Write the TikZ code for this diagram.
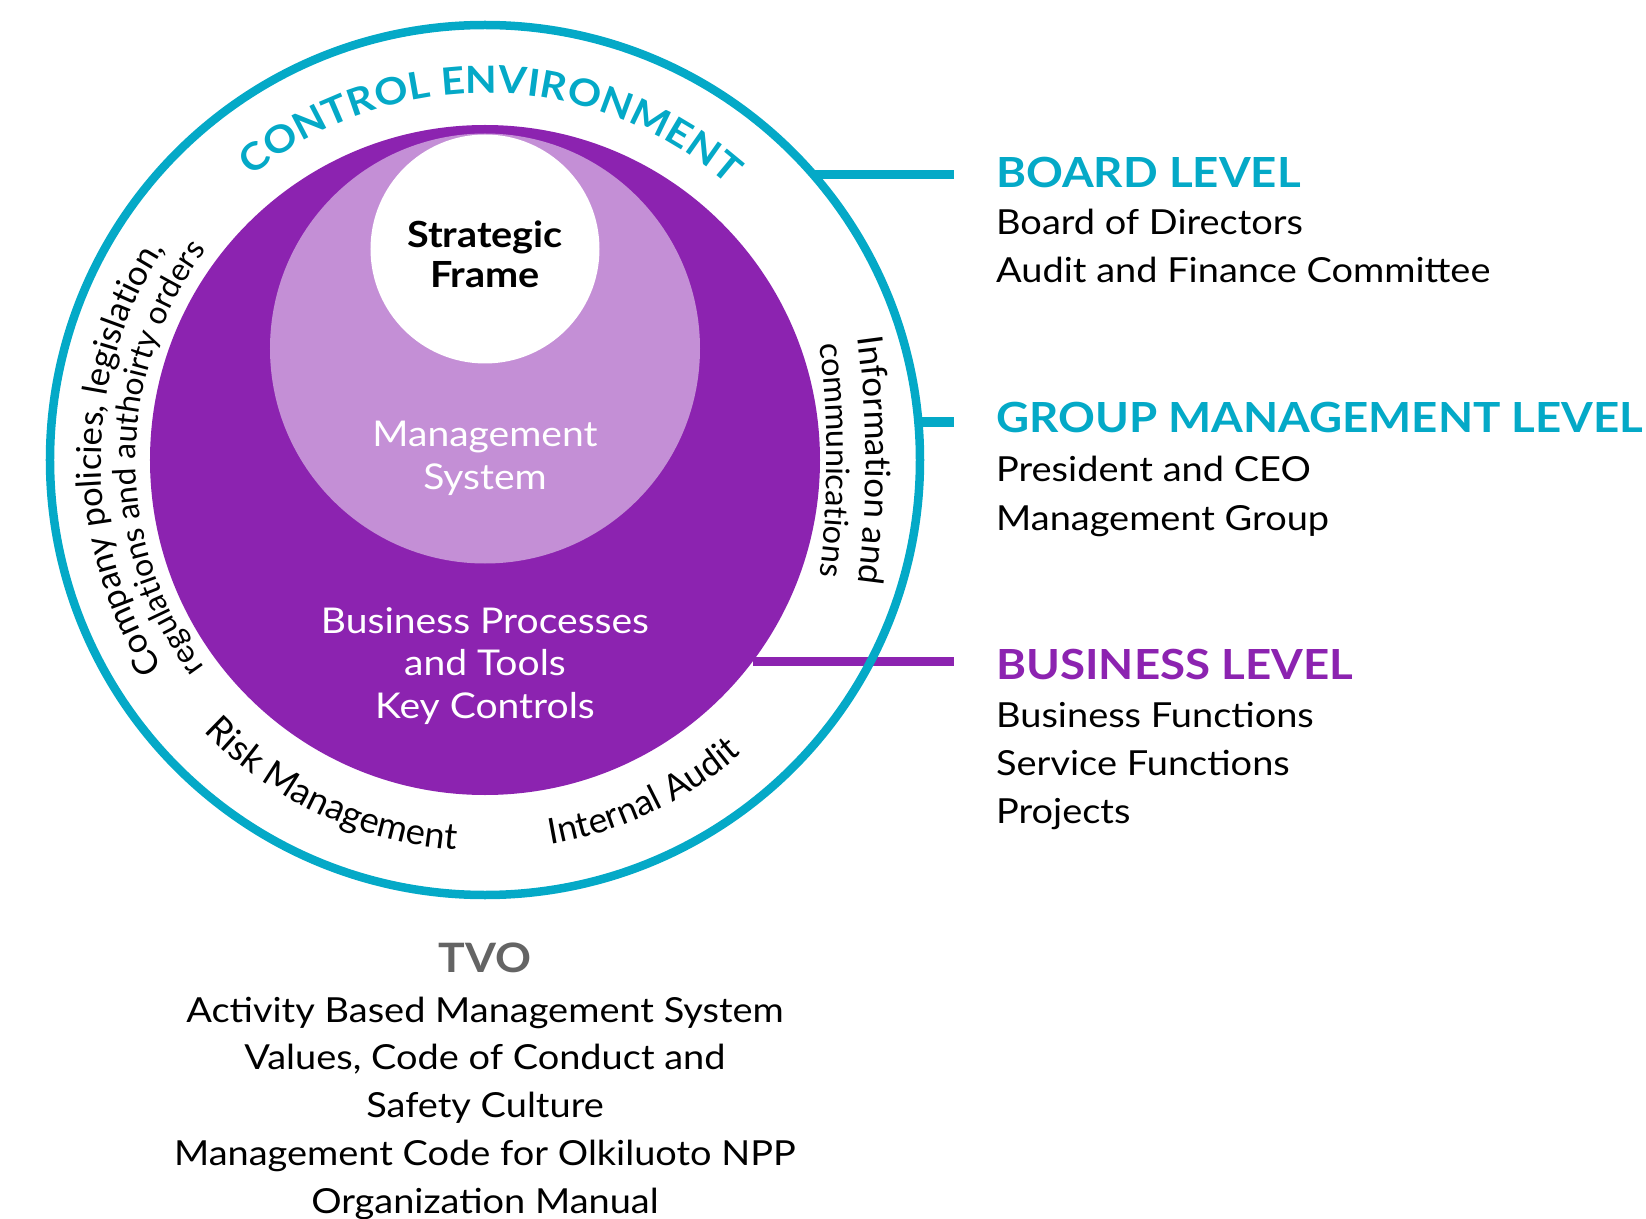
\documentclass[tikz,border=0pt]{standalone}
\usepackage{fontspec}
\setmainfont{Lato}[FakeStretch=1.1]
\newfontfamily\arcfont{Lato}
\usetikzlibrary{decorations.text}
\definecolor{cblue}{RGB}{4,169,199}
\definecolor{cpurple}{RGB}{140,35,176}
\definecolor{clight}{RGB}{196,143,214}
\definecolor{cgray}{RGB}{100,100,100}
\newcommand\fsbody{\fontsize{34.5}{40}\selectfont}
\newcommand\fshead{\fontsize{41.5}{48}\selectfont\bfseries}
\newcommand\fsinner{\fontsize{35.5}{40}\selectfont}
\newcommand\fsarc[1]{\arcfont\fontsize{#1}{36}\selectfont}
\newcommand\fsctrl{\fontsize{37.5}{40}\selectfont\bfseries}
\newcommand\fstvo{\fontsize{40.5}{44}\selectfont\bfseries}
\begin{document}
\begin{tikzpicture}[x=1pt,y=1pt,
  disk/.style={circle, inner sep=0pt, outer sep=0pt},
  body/.style={font=\fsbody, inner sep=0pt, anchor=base west},
  head/.style={font=\fshead, inner sep=0pt, anchor=base west},
  innertxt/.style={font=\fsinner, inner sep=0pt, anchor=base},
  listtxt/.style={font=\fsbody, inner sep=0pt, anchor=base},
  blueline/.style={draw=cblue, line width=9.5pt},
  purpleline/.style={draw=cpurple, line width=9.5pt},
  fittext/.style={decorate, decoration={text along path, text align=fit to path, text={#1}}},
  arctext/.style={decorate, decoration={text along path, text align=center, text={#1}}}
]
\useasboundingbox (-485,-758) rectangle (1161,460);

% disks
\node[disk, fill=cpurple, minimum size=670pt] (pd) at (0,0) {};
\node[disk, fill=clight, minimum size=430pt] (ld) at (0,111.5) {};
\node[disk, fill=white, minimum size=229pt] (wd) at (0,211) {};

% business line (under the ring)
\coordinate (busend) at (469,-204);
\draw[purpleline] (pd.-37.5) -- (pd.-37.5 -| busend);

% outer ring
\node[disk, draw=cblue, line width=8.5pt, outer sep=0pt, minimum size=870pt] (ring) at (0,0) {};

% level lines
\coordinate (boardend) at (469,285);
\coordinate (groupend) at (469,40);
\draw[blueline] (ring.41.0) -- (ring.41.0 -| boardend);
\draw[blueline] (ring.5.27) -- (ring.5.27 -| groupend);

% inner texts
\node[innertxt, font=\fontsize{36}{40}\selectfont\bfseries] (sf1) at (0,212) {Strategic};
\node[innertxt, font=\fontsize{36}{40}\selectfont\bfseries] (sf2) at (0,172) {Frame};
\node[innertxt, text=white] (ms1) at (0,13) {Management};
\node[innertxt, text=white] (ms2) at (0,-30) {System};
\node[innertxt, text=white] (bp1) at (0,-173) {Business Processes};
\node[innertxt, text=white] (bp2) at (0,-215) {and Tools};
\node[innertxt, text=white] (bp3) at (0,-258) {Key Controls};

% curved texts
\path[fittext={|\fsctrl\color{cblue}|CONTROL ENVIRONMENT}] (129.5:367) arc[start angle=129.5, end angle=48.5, radius=367];
\path[arctext={|\fsarc{34.5}|Company policies, legislation,}] (229.7:384) arc[start angle=229.7, end angle=129.7, radius=384];
\path[arctext={|\fsarc{31.8}|regulations and authoirty orders}] (229.7:349) arc[start angle=229.7, end angle=129.7, radius=349];
\path[arctext={|\fsarc{35}|Information and}] ([shift={(-519,0)}]25:900) arc[start angle=25, end angle=-25, radius=900];
\path[arctext={|\fsarc{32.4}|communications}] ([shift={(-558,0)}]25:900) arc[start angle=25, end angle=-25, radius=900];
\path[arctext={|\fsarc{36.3}|Risk Management}] (214.9:391) arc[start angle=214.9, end angle=274.9, radius=391];
\path[arctext={|\fsarc{35.5}|Internal Audit}] (270.4:390) arc[start angle=270.4, end angle=320.4, radius=390];

% right side
\node[head, text=cblue] (board) at (511,272) {BOARD LEVEL};
\node[body] (b1) at (511,225) {Board of Directors};
\node[body] (b2) at (511,177) {Audit and Finance Committee};
\node[head, text=cblue] (group) at (511,27) {GROUP MANAGEMENT LEVEL};
\node[body] (g1) at (511,-22) {President and CEO};
\node[body] (g2) at (511,-70) {Management Group};
\node[head, text=cpurple] (business) at (511,-219) {BUSINESS LEVEL};
\node[body] (u1) at (511,-267) {Business Functions};
\node[body] (u2) at (511,-315) {Service Functions};
\node[body] (u3) at (511,-363) {Projects};

% bottom list
\node[listtxt, font=\fstvo, text=cgray] (tvo) at (0,-512) {TVO};
\node[listtxt] (t1) at (0,-562) {Activity Based Management System};
\node[listtxt] (t2) at (0,-609) {Values, Code of Conduct and};
\node[listtxt] (t3) at (0,-657) {Safety Culture};
\node[listtxt] (t4) at (0,-705) {Management Code for Olkiluoto NPP};
\node[listtxt] (t5) at (0,-753) {Organization Manual};
\end{tikzpicture}
\end{document}
